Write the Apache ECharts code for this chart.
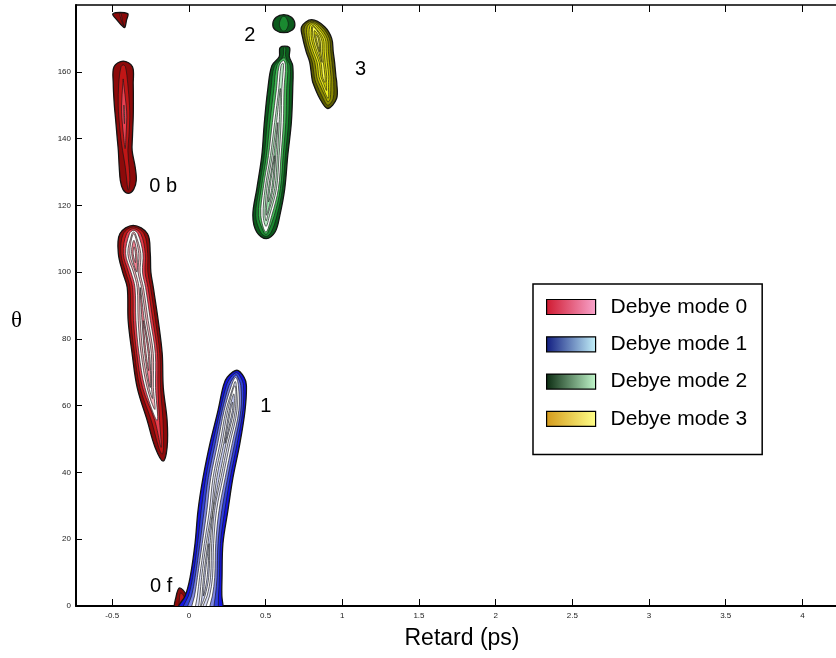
<!DOCTYPE html>
<html>
<head>
<meta charset="utf-8">
<script src="https://cdn.jsdelivr.net/npm/echarts@6/dist/echarts.min.js"></script>
<style>
  html, body { margin: 0; padding: 0; background: #fff; }
  #chart { width: 836px; height: 658px; }
</style>
</head>
<body>
<div id="chart"></div>
<script>
// ridge of each contour island: [retard (ps), theta, half width (ps), contour levels]
const mode0Blobs = [
  [[-0.447, 177.4, 0.048, 1.2], [-0.437, 175.4, 0.03, 1.2], [-0.421, 173.3, 0.004, 1.2]],
  [[-0.428, 163.2, 0, 0], [-0.428, 161.5, 0.06, 1.5], [-0.428, 156.4, 0.065, 2.2], [-0.424, 150, 0.062, 3],
   [-0.421, 146.4, 0.058, 3.2], [-0.418, 140.5, 0.05, 2.6], [-0.415, 136.4, 0.045, 1.9],
   [-0.402, 131.4, 0.052, 1.5], [-0.395, 127.5, 0.052, 1.4], [-0.395, 124.8, 0.035, 1.2], [-0.395, 123.6, 0, 0]],
  [[-0.363, 114, 0, 0], [-0.36, 111.5, 0.09, 5], [-0.356, 105.6, 0.104, 8], [-0.34, 100, 0.092, 6],
   [-0.317, 95.4, 0.085, 6], [-0.298, 85.5, 0.098, 7], [-0.272, 75.6, 0.098, 8], [-0.252, 65.4, 0.085, 6],
   [-0.207, 55.6, 0.065, 3], [-0.181, 47.5, 0.039, 2], [-0.168, 43.4, 0, 0]],
  [[-0.06, 5.4, 0, 0], [-0.045, 2.5, 0.04, 2], [-0.035, -1, 0.055, 2]]
];
const mode1Blobs = [
  [[0.313, 70.6, 0, 0], [0.305, 68.5, 0.055, 3], [0.3, 66, 0.075, 5], [0.278, 58.6, 0.088, 8],
   [0.235, 48.7, 0.0975, 7], [0.19, 38.5, 0.0975, 7], [0.157, 28.6, 0.0975, 6], [0.131, 18.7, 0.091, 7],
   [0.112, 8.6, 0.104, 8], [0.095, 3, 0.12, 7], [0.078, 0, 0.145, 6], [0.075, -2, 0.15, 6]]
];
const mode2Blobs = [
  [[0.619, 177.1, 0, 0], [0.619, 176.3, 0.05, 1.6], [0.619, 174.3, 0.072, 2], [0.619, 172.5, 0.055, 1.6], [0.619, 171.7, 0, 0]],
  [[0.625, 167.3, 0.03, 1.4], [0.622, 164.5, 0.033, 1.6], [0.609, 161.8, 0.068, 5], [0.596, 155, 0.081, 5],
   [0.58, 144.8, 0.088, 6], [0.56, 134.9, 0.0845, 7], [0.534, 125, 0.091, 8], [0.505, 117, 0.088, 6],
   [0.502, 112, 0.06, 3], [0.505, 110, 0, 0]]
];
const mode3Blobs = [
  [[0.8, 175.6, 0, 0], [0.81, 173.5, 0.075, 5], [0.837, 170, 0.094, 8], [0.853, 166, 0.088, 7],
   [0.869, 162.8, 0.081, 6], [0.88, 158.5, 0.079, 6], [0.886, 156.8, 0.078, 5], [0.908, 152, 0.055, 3],
   [0.905, 149, 0, 0]]
];
const modeNames = ['Debye mode 0', 'Debye mode 1', 'Debye mode 2', 'Debye mode 3'];
// contour fill colours, outer level first
const modeRamps = [
  ['#8c0a0a', '#c01616', '#e84050', '#ffffff', '#f6b4bc', '#ffffff', '#f08090', '#ffffff', '#fcd8dc'],
  ['#1414e0', '#3040dc', '#8088e4', '#ffffff', '#dcdff8', '#ffffff', '#c8cef4', '#ffffff', '#eceefc'],
  ['#0b5a1c', '#1a8a30', '#48bc5c', '#ffffff', '#b8ecc4', '#ffffff', '#9ae4ac', '#ffffff', '#dcf8e2'],
  ['#5c5c00', '#8a8a00', '#bcbc00', '#ecec20', '#dada00', '#ffff50', '#c8c800', '#ffff70', '#ffffa0']
];
const legendGradients = [
  ['#d01a30', '#f8a4cc'],
  ['#101c80', '#c4f2fa'],
  ['#0a2a10', '#c2f8cc'],
  ['#d49a1c', '#ffff88']
];
const xTicks = [-0.5, 0, 0.5, 1, 1.5, 2, 2.5, 3, 3.5, 4];
const yTicks = [0, 20, 40, 60, 80, 100, 120, 140, 160];
const peakLabels = [
  [-0.168, 125.7, '0 b'],
  [-0.181, 5.9, '0 f'],
  [0.502, 59.8, '1'],
  [0.398, 170.8, '2'],
  [1.12, 160.7, '3']
];

const allBlobs = [mode0Blobs, mode1Blobs, mode2Blobs, mode3Blobs];

function crossing(a, b, lvl) {
  const t = (a[3] - lvl) / (a[3] - b[3]);
  return [a[0] + t * (b[0] - a[0]), a[1] + t * (b[1] - a[1]), 0];
}

function levelRuns(ridge, lvl) {
  const runs = [];
  let cur = null;
  for (let k = 0; k < ridge.length; k++) {
    const p = ridge[k];
    if (p[3] > lvl) {
      if (!cur) {
        cur = [];
        if (k > 0) cur.push(crossing(ridge[k - 1], p, lvl));
      }
      // outer bands wide, inner ones packed towards the ridge
      cur.push([p[0], p[1], p[2] * Math.pow(1 - lvl / p[3], 1.3)]);
    } else if (cur) {
      cur.push(crossing(ridge[k - 1], p, lvl));
      runs.push(cur);
      cur = null;
    }
  }
  if (cur) runs.push(cur);
  return runs;
}

function makeRender(m) {
  return function (params, api) {
    const ridge = allBlobs[m][params.dataIndex];
    const ramp = modeRamps[m];
    const top = Math.ceil(Math.max.apply(null, ridge.map(p => p[3])));
    const children = [];
    for (let lvl = 0; lvl < top; lvl++) {
      levelRuns(ridge, lvl).forEach(run => {
        const pts = [];
        run.forEach(q => pts.push(api.coord([q[0] - q[2], q[1]])));
        for (let k = run.length - 1; k >= 0; k--) {
          if (run[k][2] > 1e-6) pts.push(api.coord([run[k][0] + run[k][2], run[k][1]]));
        }
        if (pts.length < 3) return;
        children.push({
          type: 'polygon',
          shape: { points: pts, smooth: 0.35 },
          style: {
            fill: ramp[Math.min(lvl, ramp.length - 1)],
            stroke: '#141414',
            lineWidth: lvl === 0 ? 1.3 : 0.65
          }
        });
      });
    }
    return { type: 'group', children: children };
  };
}

const series = allBlobs.map((blobs, m) => ({
  type: 'custom',
  name: modeNames[m],
  clip: true,
  silent: true,
  renderItem: makeRender(m),
  itemStyle: { color: modeRamps[m][1] },
  data: blobs.map((b, i) => [b[0][0], b[0][1], i])
}));

series.push({
  type: 'scatter',
  name: 'labels',
  silent: true,
  symbolSize: 1,
  itemStyle: { color: 'rgba(0,0,0,0)', opacity: 1 },
  label: {
    show: true,
    position: 'inside',
    formatter: p => p.data[2],
    fontFamily: 'Arial',
    fontSize: 20,
    color: '#000'
  },
  data: peakLabels
});

const chart = echarts.init(document.getElementById('chart'));
chart.setOption({
  animation: false,
  backgroundColor: '#fff',
  grid: { left: 76, right: 0, top: 5, bottom: 52, containLabel: false, outerBoundsMode: 'none' },
  legend: {
    orient: 'vertical',
    left: 533,
    top: 284,
    padding: [12.5, 15, 25, 13],
    itemGap: 16.3,
    itemWidth: 49,
    itemHeight: 15,
    icon: 'rect',
    backgroundColor: '#fff',
    borderColor: '#000',
    borderWidth: 1.5,
    borderRadius: 0,
    selectedMode: false,
    textStyle: { fontFamily: 'Arial', fontSize: 21, color: '#000', padding: [0, 0, 0, 10] },
    data: modeNames.map((name, m) => ({
      name: name,
      itemStyle: {
        color: new echarts.graphic.LinearGradient(0, 0, 1, 0, [
          { offset: 0, color: legendGradients[m][0] },
          { offset: 1, color: legendGradients[m][1] }
        ]),
        borderColor: '#000',
        borderWidth: 1.2
      }
    }))
  },
  xAxis: [
    {
      type: 'value',
      min: -0.736,
      max: 4.219,
      name: 'Retard (ps)',
      nameLocation: 'middle',
      nameGap: 21,
      nameTextStyle: { fontFamily: 'Arial', fontSize: 23, color: '#000', padding: [0, 0, 0, 12] },
      axisLine: { onZero: false, lineStyle: { color: '#000', width: 2 } },
      axisTick: { inside: true, length: 7, customValues: xTicks, lineStyle: { color: '#000' } },
      axisLabel: { customValues: xTicks, fontFamily: 'Arial', fontSize: 8, color: '#222', margin: 6 },
      splitLine: { show: false }
    },
    {
      type: 'value',
      position: 'top',
      min: -0.736,
      max: 4.219,
      axisLine: { onZero: false, lineStyle: { color: '#000', width: 1.5 } },
      axisTick: { inside: true, length: 7, customValues: xTicks, lineStyle: { color: '#000' } },
      axisLabel: { show: false },
      splitLine: { show: false }
    }
  ],
  yAxis: {
    type: 'value',
    min: 0,
    max: 180,
    name: 'θ',
    nameLocation: 'middle',
    nameRotate: 0,
    nameGap: 54,
    nameTextStyle: { fontFamily: 'Times New Roman', fontSize: 23, color: '#000', verticalAlign: 'top', padding: [4, 0, 0, 0] },
    axisLine: { onZero: false, lineStyle: { color: '#000', width: 2 } },
    axisTick: { inside: true, length: 6, customValues: yTicks, lineStyle: { color: '#000' } },
    axisLabel: { customValues: yTicks, fontFamily: 'Arial', fontSize: 8, color: '#222', margin: 5 },
    splitLine: { show: false }
  },
  series: series
});
</script>
</body>
</html>
